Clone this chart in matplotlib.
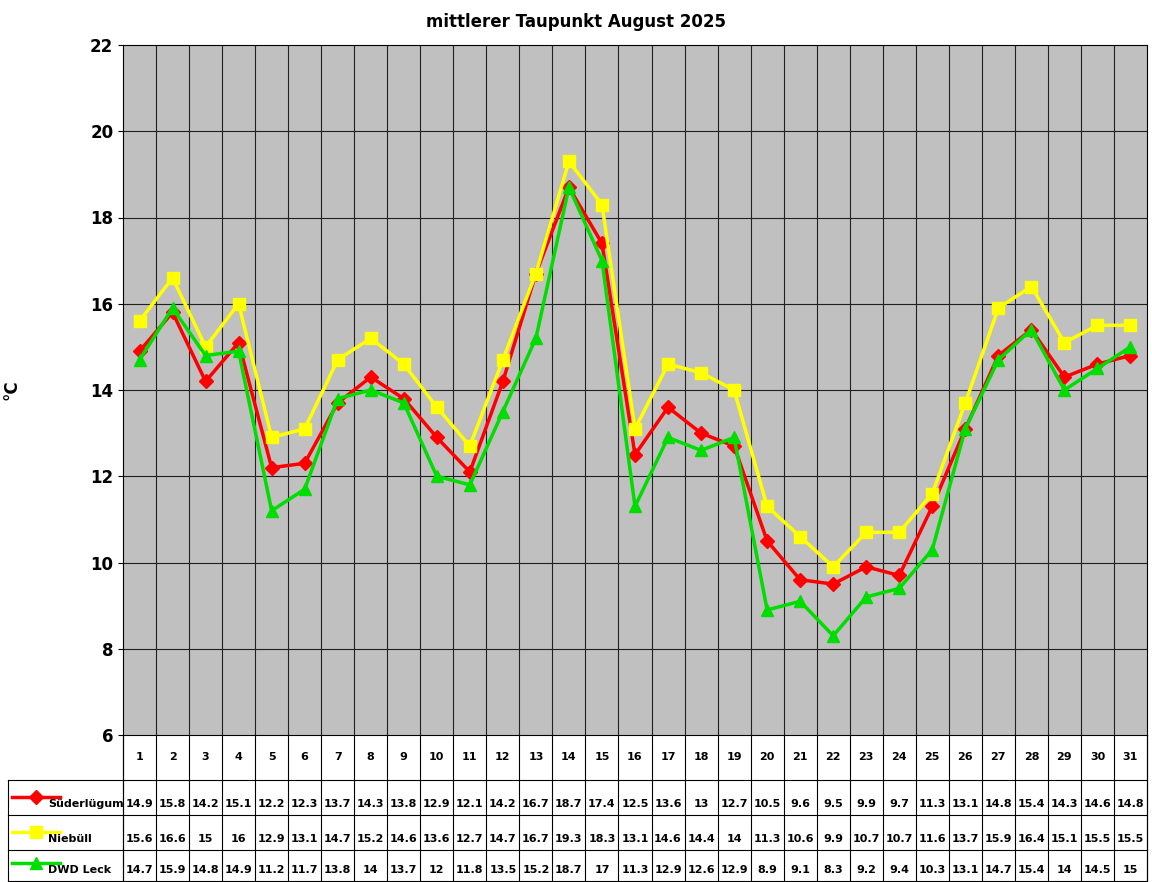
import matplotlib
matplotlib.use("Agg")
import matplotlib.pyplot as plt
from matplotlib.lines import Line2D

days = list(range(1, 32))
sued = [14.9,15.8,14.2,15.1,12.2,12.3,13.7,14.3,13.8,12.9,12.1,14.2,16.7,18.7,17.4,12.5,13.6,13,12.7,10.5,9.6,9.5,9.9,9.7,11.3,13.1,14.8,15.4,14.3,14.6,14.8]
nieb = [15.6,16.6,15,16,12.9,13.1,14.7,15.2,14.6,13.6,12.7,14.7,16.7,19.3,18.3,13.1,14.6,14.4,14,11.3,10.6,9.9,10.7,10.7,11.6,13.7,15.9,16.4,15.1,15.5,15.5]
leck = [14.7,15.9,14.8,14.9,11.2,11.7,13.8,14,13.7,12,11.8,13.5,15.2,18.7,17,11.3,12.9,12.6,12.9,8.9,9.1,8.3,9.2,9.4,10.3,13.1,14.7,15.4,14,14.5,15]
series = [("Süderlügum", sued, "#FF0000", "D", 7),
          ("Niebüll", nieb, "#FFFF00", "s", 9),
          ("DWD Leck", leck, "#00DD00", "^", 9)]

W, H = 1152, 882
fig = plt.figure(figsize=(W/100, H/100), dpi=100)
L, R, T, B = 123, 1147, 45, 735
ax = fig.add_axes([L/W, 1-B/H, (R-L)/W, (B-T)/H])
ax.set_facecolor("#C0C0C0")
for name, vals, c, m, ms in series:
    ax.plot(days, vals, color=c, marker=m, markersize=ms, linewidth=2.5)
ax.set_xlim(0.5, 31.5)
ax.set_ylim(6, 22)
ax.set_yticks(range(6, 23, 2))
ax.set_yticklabels([str(v) for v in range(6, 23, 2)], fontsize=12, fontweight="bold")
ax.set_xticks([])
for x in range(1, 31):
    ax.axvline(x + 0.5, color="#202020", linewidth=0.8, zorder=0.5)
for y in range(8, 22, 2):
    ax.axhline(y, color="#202020", linewidth=0.8, zorder=0.5)
for s in ax.spines.values():
    s.set_linewidth(0.8)
ax.set_ylabel("°C", fontsize=12, fontweight="bold", labelpad=50)
fig.text(0.5, 1-22/H, "mittlerer Taupunkt August 2025", ha="center", va="center", fontsize=12, fontweight="bold")

# table
tx = fig.add_axes([0, 0, 1, 1], facecolor="none")
tx.set_xlim(0, W); tx.set_ylim(H, 0); tx.axis("off")
cw = (R - L) / 31
rows = [(780, 815), (815, 850), (850, 881)]
kw = dict(color="black", linewidth=0.8)
tx.plot([L, L], [B, 881], **kw)
tx.plot([R, R], [B, 881], **kw)
for i in range(32):
    tx.plot([L + i*cw]*2, [B, 881], **kw)
tx.plot([8, R], [780, 780], **kw)
for y0, y1 in rows:
    tx.plot([8, R], [y1, y1], **kw)
tx.plot([8, 8], [780, 881], **kw)
for i, d in enumerate(days):
    tx.text(L + (i+0.5)*cw, 757, str(d), ha="center", va="center", fontsize=8, fontweight="bold")
for (name, vals, c, m, ms), (y0, y1) in zip(series, rows):
    yc = y1 - 12
    tx.add_line(Line2D([12, 60], [yc-6, yc-6], color=c, linewidth=2.5))
    tx.plot([36], [yc-6], marker=m, color=c, markersize=ms)
    tx.text(48, yc+1, name, ha="left", va="center", fontsize=8, fontweight="bold")
    for i, v in enumerate(vals):
        tx.text(L + (i+0.5)*cw, yc+1, f"{v:g}", ha="center", va="center", fontsize=8, fontweight="bold")

fig.savefig("out.png", dpi=100)
